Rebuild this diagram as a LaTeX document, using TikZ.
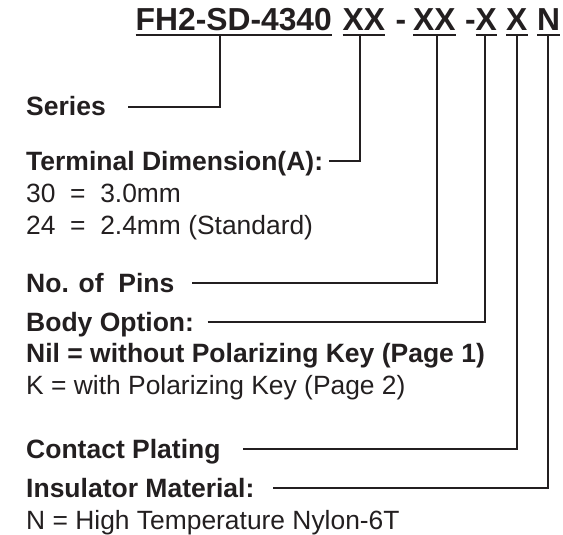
\documentclass[tikz,border=0pt]{standalone}
\usepackage{fontspec}
\setmainfont{Liberation Sans}
\definecolor{ink}{HTML}{231F20}
\begin{document}
\begin{tikzpicture}[x=1pt,y=-1pt,
  ttl/.style={font=\fontsize{31.8}{34}\selectfont\bfseries, text=ink, inner sep=0pt, anchor=base west, text height=23pt, text depth=3.8pt},
  lab/.style={font=\fontsize{26.5}{28}\selectfont\bfseries, text=ink, inner sep=0pt, anchor=base west},
  reg/.style={font=\fontsize{26.4}{28}\selectfont, text=ink, inner sep=0pt, anchor=base west},
  ul/.style={draw=ink, line width=2.3pt},
  conn/.style={draw=ink, line width=2pt}]
\useasboundingbox (0,0) rectangle (563,535);
% title pieces
\node[ttl] (t1) at (135.5,30.7) {FH2-SD-4340};
\node[ttl] (t2) at (342.5,30.7) {XX};
\node[ttl] (d1) at (395.5,30.7) {-};
\node[ttl] (t4) at (413,30.7) {XX};
\node[ttl] (d2) at (465,30.7) {-};
\node[ttl] (t6) at (475.5,30.7) {X};
\node[ttl] (t7) at (506,30.7) {X};
\node[ttl] (t8) at (537,30.7) {N};
\foreach \n in {t1,t2,t4,t6,t7,t8}
  \draw[ul] (\n.south west) -- (\n.south east);
% labels
\node[lab] (series) at (26,116) {Series};
\node[lab] (term) at (26,170) {Terminal Dimension(A):};
\node[reg] (t30) at (26,202) {30\ \ =\ \ 3.0mm};
\node[reg] (t24) at (26,234) {24\ \ =\ \ 2.4mm (Standard)};
\node[lab] (pins) at (26,292) {No. of\ \ Pins};
\node[lab] (body) at (26,331) {Body Option:};
\node[lab] (nil) at (26,362) {Nil = without Polarizing Key (Page 1)};
\node[reg] (kkey) at (26,394) {K = with Polarizing Key (Page 2)};
\node[lab] (contact) at (26,458) {Contact Plating};
\node[lab] (insul) at (26,497) {Insulator Material:};
\node[reg] (nyl) at (26,529) {N = High Temperature Nylon-6T};
% connector start points
\coordinate (cS) at (128,107);
\coordinate (cT) at (329,161);
\coordinate (cP) at (192,283);
\coordinate (cB) at (207.5,322);
\coordinate (cC) at (243,449);
\coordinate (cI) at (273,488);
% connectors
\draw[conn] (cS) -| ([xshift=-13.5pt]t1.south);
\draw[conn] (cT) -| ([xshift=-4.2pt]t2.south);
\draw[conn] (cP) -| ([xshift=2.3pt]t4.south);
\draw[conn] (cB) -| ([xshift=-1.6pt]t6.south);
\draw[conn] (cC) -| (t7.south);
\draw[conn] (cI) -| ([xshift=-0.5pt]t8.south);
\end{tikzpicture}
\end{document}
